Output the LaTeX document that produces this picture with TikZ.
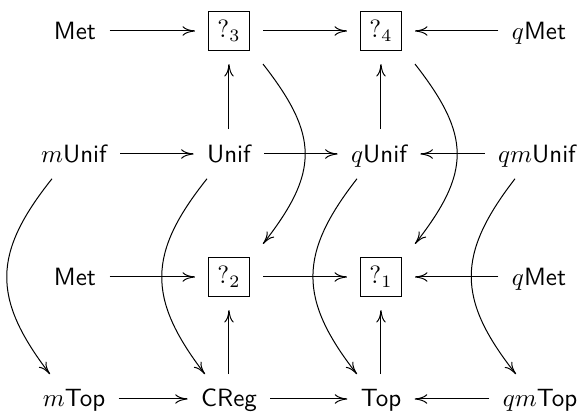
\documentclass[tikz,border=0pt]{standalone}
\usepackage{amsmath}
\usepackage{amssymb}
\usetikzlibrary{arrows.meta}
\tikzset{
  obj/.style={font=\sffamily, inner xsep=5.2pt, inner ysep=6pt, text height=6.9pt, text depth=0.5pt},
  qbox/.style={draw, inner sep=3.6pt, outer sep=5.4pt},
  arr/.style={-{To[length=5pt,width=3.8pt]}},
}

\begin{document}
\begin{tikzpicture}[x=0.4pt, y=-0.4pt]
	\useasboundingbox (0,0) rectangle (582,413);
	% nodes, row by row
	\node[obj]  (metA)   at (75,31)   {Met};
	\node[qbox] (q3)     at (229,31)  {$?_3$};
	\node[qbox] (q4)     at (381,31)  {$?_4$};
	\node[obj]  (qmetA)  at (539,31)  {$q$Met};
	\node[obj]  (munif)  at (74,154)  {$m$Unif};
	\node[obj]  (unif)   at (229,154) {Unif};
	\node[obj]  (qunif)  at (379,154) {$q$Unif};
	\node[obj]  (qmunif) at (537,154) {$qm$Unif};
	\node[obj]  (metB)   at (75,277)  {Met};
	\node[qbox] (q2)     at (229,277) {$?_2$};
	\node[qbox] (q1)     at (381,277) {$?_1$};
	\node[obj]  (qmetB)  at (539,277) {$q$Met};
	\node[obj]  (mtop)   at (74,399)  {$m$Top};
	\node[obj]  (creg)   at (229,399) {CReg};
	\node[obj]  (top)    at (381,399) {Top};
	\node[obj]  (qmtop)  at (540,399) {$qm$Top};
	% straight arrows
	\draw[arr] (metA) -- (q3);
	\draw[arr] (q3) -- (q4);
	\draw[arr] (qmetA) -- (q4);
	\draw[arr] (unif) -- (q3);
	\draw[arr] (qunif.north -| q4) -- (q4);
	\draw[arr] (munif) -- (unif);
	\draw[arr] (unif) -- (qunif);
	\draw[arr] (qmunif) -- (qunif);
	\draw[arr] (metB) -- (q2);
	\draw[arr] (q2) -- (q1);
	\draw[arr] (qmetB) -- (q1);
	\draw[arr] (creg) -- (q2);
	\draw[arr] (top) -- (q1);
	\draw[arr] (mtop) -- (creg);
	\draw[arr] (creg) -- (top);
	\draw[arr] (qmtop) -- (top);
	% curved arrows
	\draw[arr] (q3.south east) to[bend left=38, looseness=1.3] (q2.north east);
	\draw[arr] (q4.south east) to[bend left=38, looseness=1.3] (q1.north east);
	\draw[arr] ([xshift=-8.8pt]munif.south) to[bend right=38, looseness=1.25] ([xshift=-9.6pt]mtop.north);
	\draw[arr] ([xshift=-8.8pt]unif.south) to[bend right=38, looseness=1.25] ([xshift=-9.6pt]creg.north);
	\draw[arr] ([xshift=-8.8pt]qunif.south) to[bend right=38, looseness=1.25] ([xshift=-9.6pt]top.north);
	\draw[arr] ([xshift=-8.8pt]qmunif.south) to[bend right=38, looseness=1.25] ([xshift=-9.6pt]qmtop.north);
\end{tikzpicture}
\end{document}
